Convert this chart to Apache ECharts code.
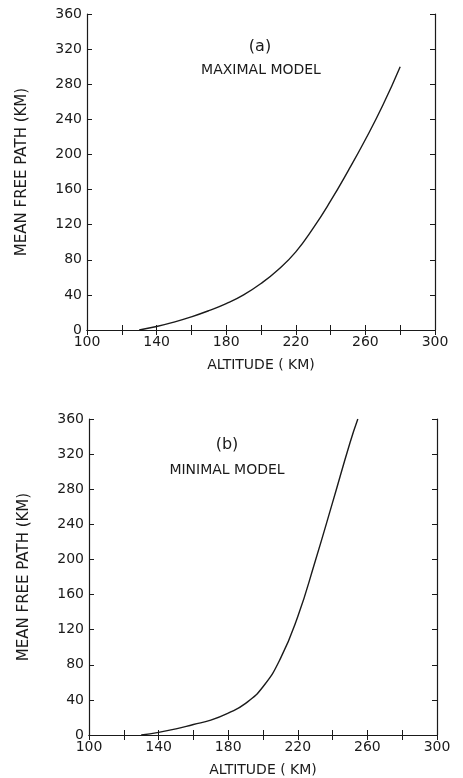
<!DOCTYPE html>
<html>
<head>
<meta charset="utf-8">
<script src="https://cdn.jsdelivr.net/npm/echarts@6/dist/echarts.min.js"></script>
<style>
  html, body { margin: 0; padding: 0; background: #fff; }
  #chart { width: 463px; height: 778px; }
</style>
</head>
<body>
<div id="chart"></div>
<script>
// (a) maximal model
const altA = [130, 140, 150, 160, 170, 180, 190, 200, 210, 220, 230, 240, 250, 260, 270, 280];
const mfpA = [0, 4, 9, 15, 22, 30, 40, 53, 69, 89, 116, 147, 181, 217, 256, 300];
// (b) minimal model
const altB = [130, 140, 150, 160, 170, 180, 190, 200, 210, 220, 230, 240, 250, 254.5];
const mfpB = [0, 3, 7, 12, 17, 25, 36, 55, 87, 135, 198, 265, 333, 360];

const altTicks = [100, 140, 180, 220, 260, 300];
const mfpTicks = [0, 40, 80, 120, 160, 200, 240, 280, 320, 360];

const ink = '#1a1a1a';
const font = 'DejaVu Sans';

const pairs = (xs, ys) => xs.map((x, i) => [x, ys[i]]);

const chart = echarts.init(document.getElementById('chart'));

const grids = [
  { left: 87, right: 28, top: 14, height: 316 },
  { left: 89, right: 26, top: 419, height: 316 }
];

// 公共的坐标轴样式
const tickStyle = { show: true, inside: true, length: 5, lineStyle: { color: ink, width: 1 } };
const lineStyle = { show: true, lineStyle: { color: ink, width: 1.2 } };
const minorStyle = { show: true, splitNumber: 2, length: 5, lineStyle: { color: ink, width: 1 } };

const xAxes = [];
const yAxes = [];
grids.forEach((g, i) => {
  xAxes.push({
    type: 'value', gridIndex: i, min: 100, max: 300, interval: 40, position: 'bottom',
    name: 'ALTITUDE ( KM)', nameLocation: 'middle', nameGap: 28,
    nameTextStyle: { color: ink, fontFamily: font, fontSize: 14 },
    axisLine: lineStyle, axisTick: tickStyle, minorTick: minorStyle,
    axisLabel: { color: ink, fontFamily: font, fontSize: 14, margin: 5,
      formatter: v => altTicks.includes(v) ? String(v) : '' },
    splitLine: { show: false }
  });
  xAxes.push({
    type: 'value', gridIndex: i, min: 100, max: 300, interval: 40, position: 'top',
    axisLine: lineStyle, axisTick: tickStyle, minorTick: minorStyle,
    axisLabel: { show: false }, splitLine: { show: false }
  });
  yAxes.push({
    type: 'value', gridIndex: i, min: 0, max: 360, interval: 40, position: 'left',
    name: 'MEAN FREE PATH (KM)', nameLocation: 'middle', nameGap: 57,
    nameTextStyle: { color: ink, fontFamily: font, fontSize: 15 },
    axisLine: lineStyle, axisTick: tickStyle,
    axisLabel: { color: ink, fontFamily: font, fontSize: 14, margin: 5,
      formatter: v => mfpTicks.includes(v) ? String(v) : '' },
    splitLine: { show: false }
  });
  yAxes.push({
    type: 'value', gridIndex: i, min: 0, max: 360, interval: 40, position: 'right',
    axisLine: lineStyle, axisTick: tickStyle,
    axisLabel: { show: false }, splitLine: { show: false }
  });
});

const label = (text, x, y, size) => ({
  type: 'text', x: x, y: y,
  style: { text: text, fill: ink, font: size + 'px "DejaVu Sans"', align: 'center', verticalAlign: 'middle' }
});

const option = {
  backgroundColor: '#fff',
  animation: false,
  grid: grids,
  xAxis: xAxes,
  yAxis: yAxes,
  graphic: [
    label('(a)', 260, 47, 16),
    label('MAXIMAL MODEL', 261, 70, 14),
    label('(b)', 227, 445, 16),
    label('MINIMAL MODEL', 227, 470, 14)
  ],
  series: [
    {
      type: 'line', xAxisIndex: 0, yAxisIndex: 0,
      data: pairs(altA, mfpA), smooth: 0.5, showSymbol: false,
      lineStyle: { color: ink, width: 1.4 }
    },
    {
      type: 'line', xAxisIndex: 2, yAxisIndex: 2,
      data: pairs(altB, mfpB), smooth: 0.5, showSymbol: false,
      lineStyle: { color: ink, width: 1.4 }
    }
  ]
};

chart.setOption(option);
</script>
</body>
</html>
